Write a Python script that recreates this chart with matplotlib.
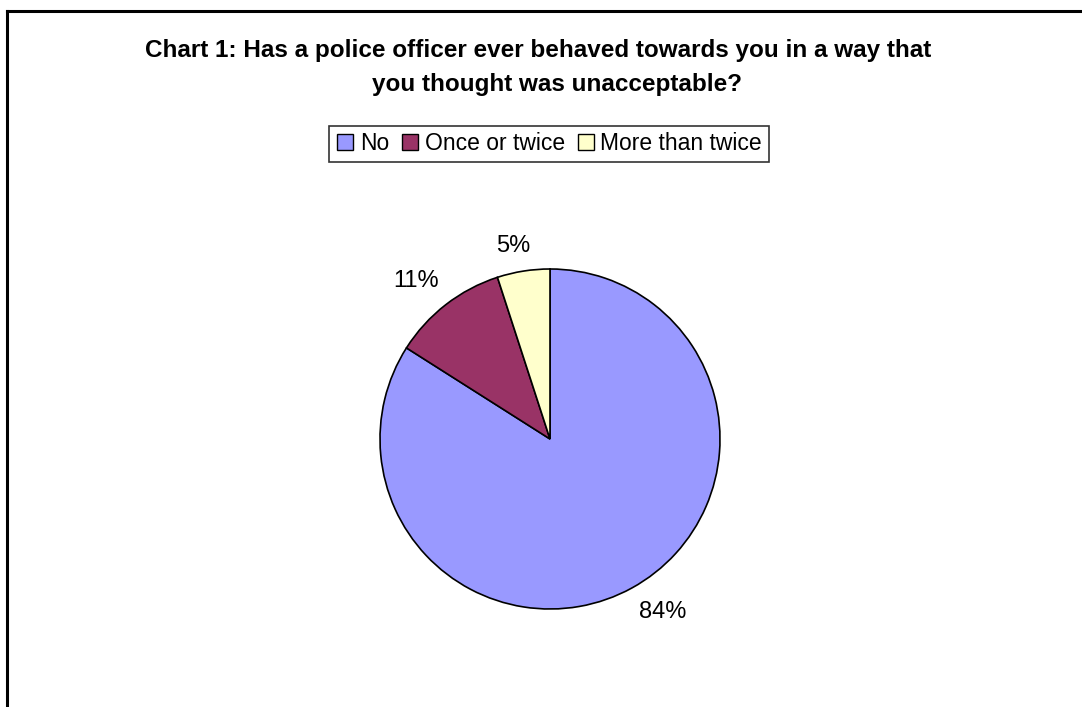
import numpy as np
import matplotlib.pyplot as plt
from matplotlib.lines import Line2D

plt.rcParams['font.family'] = ['Liberation Sans', 'DejaVu Sans']

categories = ["No", "Once or twice", "More than twice"]
shares = [84, 11, 5]
colors = ["#9999FF", "#993366", "#FFFFCC"]
# label placement: radius factor and angular nudge (degrees) from wedge middle
label_dist = [1.215, 1.22, 1.155]
label_nudge = [4.4, 2.5, 1.9]

W, H = 1082, 707
fig = plt.figure(figsize=(W / 100, H / 100), dpi=100)

# chart area frame: left and top edges only
fig.add_artist(Line2D([7 / W, 7 / W], [0, 1 - 11 / H], color="black", lw=2.2))
fig.add_artist(Line2D([7 / W, 1], [1 - 11 / H, 1 - 11 / H], color="black", lw=2.2))

fig.text(538 / W, 1 - 51 / H, "Chart 1: Has a police officer ever behaved towards you in a way that",
         ha="center", va="center", fontsize=17.5, fontweight="bold")
fig.text(557 / W, 1 - 85 / H, "you thought was unacceptable?",
         ha="center", va="center", fontsize=17.5, fontweight="bold")

cx, cy, r = 550, 439, 170
ax = fig.add_axes([(cx - r) / W, (H - cy - r) / H, 2 * r / W, 2 * r / H])
wedges, _ = ax.pie(shares, colors=colors, startangle=90, counterclock=False,
                   wedgeprops=dict(edgecolor="black", linewidth=1.2))
ax.set_xlim(-1, 1)
ax.set_ylim(-1, 1)
ax.axis("off")

for w, v, d, n in zip(wedges, shares, label_dist, label_nudge):
    ang = np.deg2rad((w.theta1 + w.theta2) / 2 + n)
    ax.text(d * np.cos(ang), d * np.sin(ang), f"{v}%", ha="center", va="center",
            fontsize=17, clip_on=False)

handles = [Line2D([], [], ls="none", marker="s", markersize=11, markerfacecolor=c,
                  markeredgecolor="black", markeredgewidth=1) for c in colors]
leg = fig.legend(handles, categories, loc="center", bbox_to_anchor=(549 / W, 1 - 144 / H),
                 ncol=3, fontsize=16.5, frameon=True, fancybox=False, handlelength=0.8,
                 handletextpad=0.25, columnspacing=0.5, borderpad=0.3, borderaxespad=0)
leg.get_frame().set_edgecolor("black")
leg.get_frame().set_linewidth(1.2)

fig.savefig("out.png", dpi=100)
